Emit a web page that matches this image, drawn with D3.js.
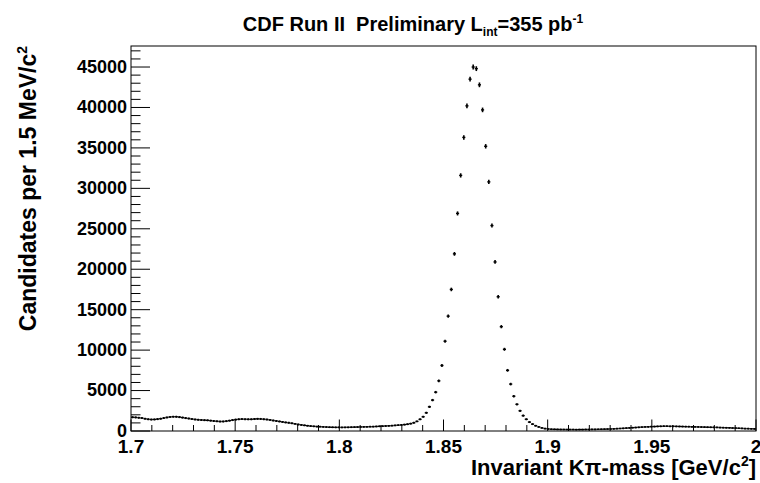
<!DOCTYPE html>
<html>
<head>
<meta charset="utf-8">
<script src="https://cdn.jsdelivr.net/npm/d3@7"></script>
<style>
  body { margin: 0; background: #fff; }
  text { font-family: "Liberation Sans", Arial, sans-serif; font-weight: bold; fill: #000; }
</style>
</head>
<body>
<div id="chart"></div>
<script>
// histogram: 200 bins of 1.5 MeV from 1.7 to 2.0 GeV
var massLo = 1.7, massHi = 2.0, binWidth = 0.0015;
var counts = [
  1700,1680,1640,1600,1520,1450,1420,1430,1470,1520,
  1600,1680,1740,1770,1760,1720,1660,1600,1540,1480,
  1430,1390,1360,1340,1320,1280,1240,1200,1170,1180,
  1220,1280,1350,1410,1450,1470,1460,1440,1450,1480,
  1500,1490,1460,1420,1370,1300,1240,1180,1120,1060,
  1010,950,880,810,750,700,650,610,580,550,
  530,510,490,470,460,450,450,440,450,460,
  470,480,490,500,510,520,530,540,560,580,
  600,620,640,660,690,720,750,790,840,910,
  1020,1190,1440,1760,2250,2990,3820,4800,6200,8100,
  11100,14200,17500,21900,26900,31600,36300,40200,43500,45000,
  44800,42800,39700,35200,30800,25400,20900,16600,12900,10100,
  7500,5800,4300,3300,2500,1900,1450,1100,850,650,
  500,380,300,250,220,210,200,190,190,180,
  180,180,170,180,180,190,190,200,200,210,
  220,230,240,250,270,290,310,330,360,380,
  410,430,460,480,500,520,540,550,570,580,
  590,590,580,580,570,560,550,540,530,520,
  510,500,490,480,470,460,450,440,430,410,
  400,390,370,360,340,320,300,290,270,260
];
var xTicks = [1.7, 1.75, 1.8, 1.85, 1.9, 1.95, 2.0];
var yTicks = [0, 5000, 10000, 15000, 20000, 25000, 30000, 35000, 40000, 45000];
var yMax = 47600;

var W = 760, H = 483;
var margin = { top: 46, right: 4, bottom: 52, left: 131 };
var width = W - margin.left - margin.right,
    height = H - margin.top - margin.bottom;

var svg = d3.select("#chart").append("svg")
    .attr("width", W)
    .attr("height", H);

svg.append("rect").attr("width", W).attr("height", H).attr("fill", "#fff");

var x = d3.scaleLinear().domain([massLo, massHi]).range([0, width]);
var y = d3.scaleLinear().domain([0, yMax]).range([height, 0]);

var g = svg.append("g")
    .attr("transform", "translate(" + margin.left + "," + margin.top + ")");

// frame
g.append("rect")
    .attr("width", width).attr("height", height)
    .attr("fill", "none").attr("stroke", "#000").attr("stroke-width", 1);

// x ticks (drawn inward)
var xMinor = d3.range(0, 31).map(function(i) { return massLo + i * 0.01; });
g.selectAll(".xt").data(xMinor).enter().append("line")
    .attr("x1", function(d) { return x(d); })
    .attr("x2", function(d) { return x(d); })
    .attr("y1", height)
    .attr("y2", function(d, i) { return height - (i % 5 === 0 ? 11.5 : 6); })
    .attr("stroke", "#000");

g.selectAll(".xl").data(xTicks).enter().append("text")
    .attr("x", function(d) { return x(d); })
    .attr("y", height + 22)
    .attr("text-anchor", "middle")
    .style("font-size", "19px")
    .text(function(d) { return d3.format("")(d); });

// y ticks
var yMinor = d3.range(0, 48).map(function(i) { return i * 1000; });
g.selectAll(".yt").data(yMinor).enter().append("line")
    .attr("y1", function(d) { return y(d); })
    .attr("y2", function(d) { return y(d); })
    .attr("x1", 0)
    .attr("x2", function(d, i) { return i % 5 === 0 ? 19 : 9.5; })
    .attr("stroke", "#000");

g.selectAll(".yl").data(yTicks).enter().append("text")
    .attr("x", -4)
    .attr("y", function(d) { return y(d); })
    .attr("dy", "0.33em")
    .attr("text-anchor", "end")
    .style("font-size", "18px")
    .text(function(d) { return d; });

// data points with error bars
var pts = g.append("g");
counts.forEach(function(c, i) {
  var lo = massLo + i * binWidth, hi = lo + binWidth, mid = lo + binWidth / 2;
  var err = Math.sqrt(c);
  pts.append("line")
      .attr("x1", x(lo)).attr("x2", x(hi))
      .attr("y1", y(c)).attr("y2", y(c))
      .attr("stroke", "#000").attr("stroke-width", 1.4);
  pts.append("line")
      .attr("x1", x(mid)).attr("x2", x(mid))
      .attr("y1", y(c + err) - 0.7).attr("y2", y(c - err) + 0.7)
      .attr("stroke", "#000").attr("stroke-width", 1.6);
});

// titles
var title = svg.append("text")
    .attr("x", 413).attr("y", 31)
    .attr("text-anchor", "middle")
    .style("font-size", "20px");
title.append("tspan").text("CDF Run II\u00a0\u00a0Preliminary L");
title.append("tspan").attr("dy", 5).style("font-size", "12px").text("int");
title.append("tspan").attr("dy", -5).text("=355 pb");
title.append("tspan").attr("dy", -8).style("font-size", "12px").text("-1");

var xt = svg.append("text")
    .attr("x", margin.left + width).attr("y", 475)
    .attr("text-anchor", "end")
    .style("font-size", "22px");
xt.append("tspan").text("Invariant K\u03c0-mass [GeV/c");
xt.append("tspan").attr("dy", -9).style("font-size", "14px").text("2");
xt.append("tspan").attr("dy", 9).text("]");

var yt = svg.append("text")
    .attr("transform", "translate(36," + margin.top + ") rotate(-90)")
    .attr("text-anchor", "end")
    .style("font-size", "23px");
yt.append("tspan").text("Candidates per 1.5 MeV/c");
yt.append("tspan").attr("dy", -9).style("font-size", "14px").text("2");
</script>
</body>
</html>
